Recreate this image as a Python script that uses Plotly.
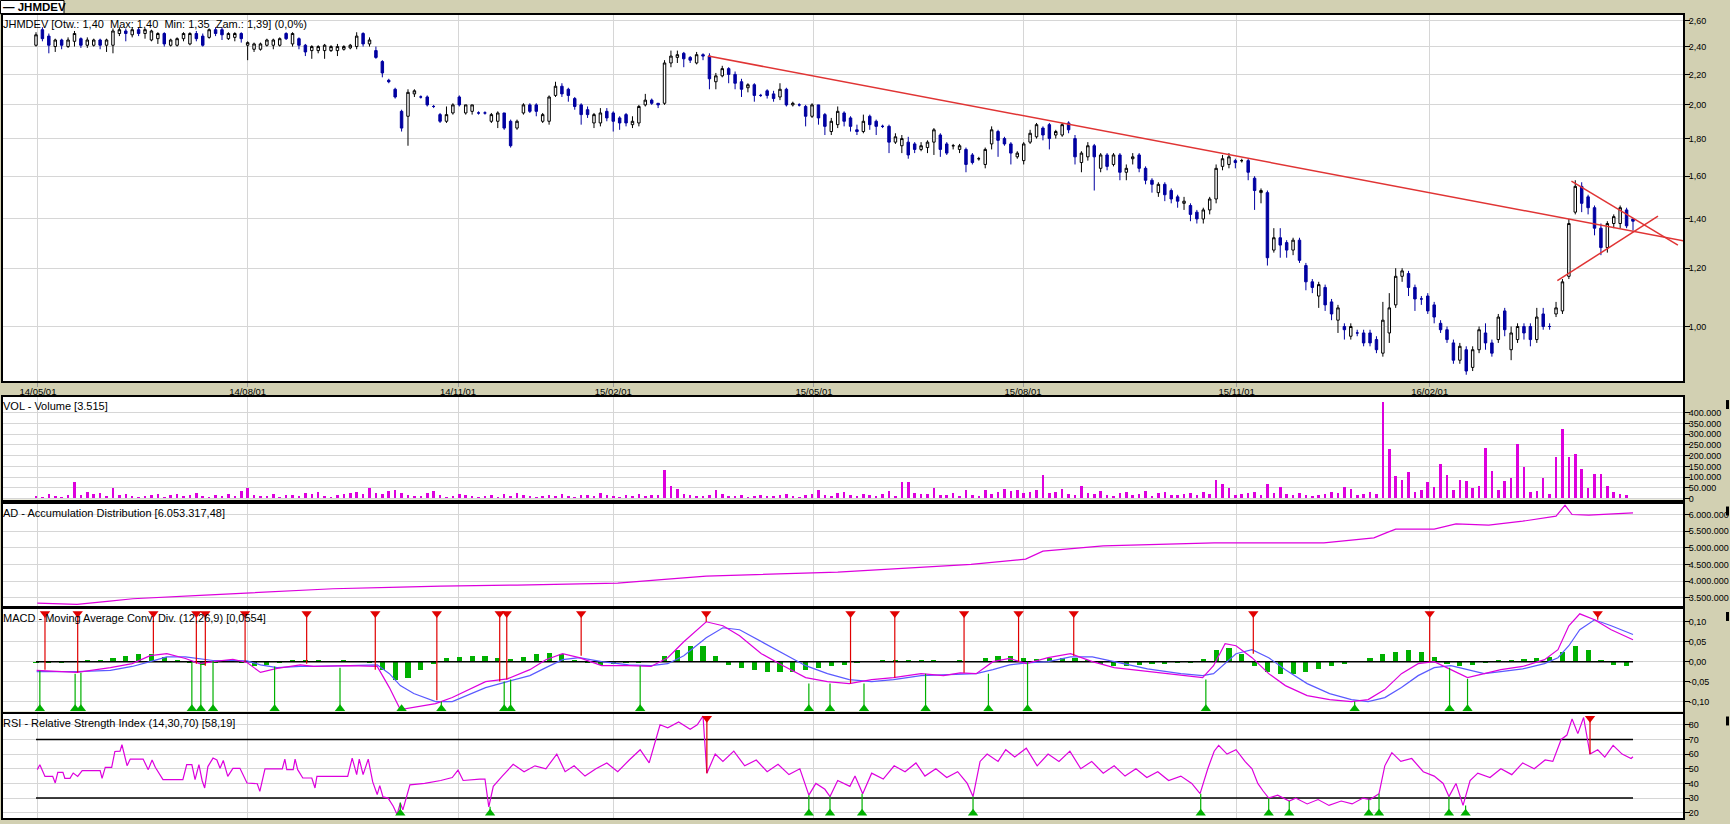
import plotly.graph_objects as go

# ---------------- DATA ----------------
date_pos = [0.3, 33.0, 65.8, 90.0, 121.3, 153.9, 187.2, 217.3]
date_lbl = ["14/05/01", "14/08/01", "14/11/01", "15/02/01", "15/05/01", "15/08/01", "15/11/01", "16/02/01"]

opens = [2.41,2.53,2.48,2.40,2.45,2.40,2.44,2.46,2.41,2.41,
 2.45,2.41,2.41,2.50,2.52,2.49,2.53,2.50,2.45,2.46,
 2.50,2.41,2.41,2.46,2.42,2.50,2.48,2.47,2.53,2.53,
 2.46,2.47,2.50,2.41,2.38,2.38,2.41,2.41,2.41,2.50,
 2.42,2.46,2.41,2.37,2.37,2.37,2.37,2.37,2.38,2.39,
 2.40,2.50,2.42,2.37,2.29,2.16,2.10,1.96,1.93,2.07,
 2.05,2.05,1.99,1.94,1.90,1.95,2.05,1.95,1.96,1.95,
 1.95,1.90,1.90,1.95,1.90,1.86,1.95,2.00,2.00,1.90,
 1.90,2.06,2.12,2.10,2.04,2.00,1.97,1.89,1.89,1.96,
 1.95,1.92,1.94,1.88,1.89,2.00,2.03,2.01,2.01,2.28,
 2.32,2.35,2.32,2.28,2.34,2.33,2.15,2.19,2.24,2.20,
 2.15,2.11,2.13,2.06,2.09,2.07,2.05,2.10,2.00,2.00,
 1.99,1.93,2.00,1.94,1.84,1.88,1.95,1.92,1.85,1.84,
 1.93,1.90,1.87,1.87,1.78,1.76,1.78,1.77,1.74,1.75,
 1.78,1.82,1.77,1.76,1.74,1.74,1.71,1.69,1.66,1.77,
 1.84,1.80,1.77,1.70,1.68,1.78,1.81,1.86,1.88,1.82,
 1.82,1.89,1.80,1.67,1.70,1.76,1.64,1.71,1.66,1.71,
 1.62,1.69,1.71,1.64,1.58,1.52,1.56,1.53,1.50,1.47,
 1.46,1.43,1.40,1.44,1.49,1.65,1.66,1.68,1.68,1.68,
 1.59,1.52,1.52,1.27,1.32,1.30,1.27,1.31,1.21,1.15,
 1.10,1.13,1.08,1.02,1.00,0.97,0.98,0.98,0.98,0.96,
 0.92,0.98,1.07,1.17,1.18,1.13,1.09,1.10,1.07,1.01,
 0.99,0.95,0.90,0.93,0.88,0.93,0.98,0.95,0.96,1.05,
 0.93,0.96,1.00,1.00,0.96,1.04,1.00,1.04,1.05,1.17,
 1.43,1.55,1.50,1.45,1.36,1.28,1.38,1.38,1.44,1.40]
highs = [2.51,2.55,2.50,2.46,2.46,2.47,2.52,2.47,2.47,2.46,
 2.46,2.46,2.54,2.55,2.54,2.55,2.55,2.54,2.53,2.51,
 2.51,2.46,2.47,2.51,2.51,2.52,2.50,2.54,2.55,2.55,
 2.51,2.51,2.51,2.44,2.43,2.43,2.46,2.46,2.47,2.51,
 2.51,2.47,2.42,2.41,2.41,2.42,2.41,2.42,2.41,2.42,
 2.51,2.51,2.47,2.40,2.30,2.17,2.11,1.97,2.10,2.10,
 2.06,2.06,2.00,1.95,1.99,2.01,2.06,2.00,2.00,1.96,
 1.96,1.95,1.96,1.95,1.91,1.91,2.01,2.01,2.01,1.95,
 2.06,2.15,2.14,2.11,2.05,2.01,1.99,1.95,1.98,1.98,
 1.96,1.93,1.95,1.93,2.00,2.07,2.04,2.01,2.30,2.37,
 2.37,2.36,2.33,2.36,2.35,2.35,2.21,2.26,2.25,2.22,
 2.17,2.14,2.14,2.07,2.10,2.09,2.14,2.11,2.02,2.01,
 2.00,2.01,2.00,1.95,1.92,1.99,1.96,1.93,1.88,1.94,
 1.94,1.91,1.88,1.88,1.83,1.82,1.81,1.78,1.78,1.79,
 1.86,1.83,1.78,1.77,1.77,1.75,1.72,1.70,1.75,1.87,
 1.85,1.81,1.78,1.73,1.78,1.85,1.89,1.87,1.89,1.85,
 1.89,1.90,1.82,1.73,1.78,1.77,1.72,1.72,1.72,1.72,
 1.66,1.72,1.72,1.65,1.59,1.57,1.57,1.54,1.51,1.50,
 1.47,1.44,1.45,1.50,1.66,1.71,1.72,1.69,1.69,1.69,
 1.60,1.54,1.53,1.36,1.36,1.31,1.32,1.32,1.22,1.16,
 1.15,1.14,1.09,1.07,1.01,1.01,0.99,0.99,0.99,0.97,
 1.08,1.11,1.20,1.20,1.19,1.14,1.10,1.11,1.08,1.02,
 1.00,0.96,0.95,0.94,0.94,1.00,1.01,0.96,1.04,1.06,
 1.00,1.01,1.01,1.01,1.06,1.06,1.01,1.08,1.16,1.40,
 1.58,1.57,1.51,1.46,1.38,1.39,1.42,1.46,1.45,1.40]
lows = [2.40,2.44,2.35,2.36,2.38,2.39,2.40,2.39,2.39,2.40,
 2.38,2.36,2.35,2.48,2.44,2.47,2.48,2.46,2.44,2.42,
 2.40,2.40,2.40,2.44,2.41,2.44,2.40,2.46,2.48,2.45,
 2.45,2.44,2.43,2.30,2.36,2.37,2.40,2.38,2.40,2.45,
 2.40,2.38,2.33,2.31,2.35,2.31,2.36,2.33,2.37,2.38,
 2.38,2.40,2.40,2.31,2.18,2.14,2.04,1.84,1.76,2.05,
 2.04,1.99,1.98,1.89,1.89,1.94,1.99,1.94,1.94,1.94,
 1.94,1.89,1.86,1.85,1.75,1.85,1.94,1.95,1.93,1.89,
 1.88,2.05,2.05,2.02,1.97,1.88,1.92,1.86,1.87,1.90,
 1.84,1.85,1.87,1.86,1.87,1.99,2.00,1.98,2.00,2.25,
 2.28,2.25,2.28,2.27,2.30,2.10,2.10,2.18,2.14,2.10,
 2.05,2.08,2.02,2.05,2.04,2.02,2.03,1.99,1.99,1.99,
 1.87,1.92,1.88,1.82,1.82,1.86,1.87,1.84,1.82,1.83,
 1.85,1.82,1.86,1.72,1.77,1.72,1.69,1.72,1.73,1.72,
 1.71,1.70,1.71,1.74,1.72,1.62,1.66,1.68,1.64,1.74,
 1.70,1.76,1.66,1.69,1.66,1.77,1.80,1.79,1.74,1.80,
 1.81,1.83,1.66,1.62,1.68,1.53,1.62,1.63,1.65,1.58,
 1.58,1.66,1.62,1.56,1.52,1.50,1.48,1.47,1.45,1.44,
 1.39,1.38,1.38,1.42,1.47,1.63,1.64,1.64,1.67,1.58,
 1.44,1.47,1.21,1.26,1.24,1.24,1.25,1.22,1.12,1.11,
 1.06,1.05,1.02,0.98,0.96,0.96,0.97,0.94,0.94,0.92,
 0.91,0.95,1.06,1.15,1.10,1.05,1.07,1.04,1.01,0.98,
 0.95,0.89,0.89,0.86,0.87,0.92,0.93,0.91,0.95,0.97,
 0.90,0.95,0.96,0.94,0.95,0.99,0.99,1.03,1.04,1.16,
 1.42,1.43,1.42,1.33,1.25,1.26,1.36,1.36,1.36,1.35]
closes = [2.49,2.46,2.41,2.45,2.41,2.45,2.50,2.41,2.45,2.45,
 2.41,2.45,2.52,2.53,2.50,2.53,2.50,2.53,2.52,2.50,
 2.42,2.45,2.46,2.50,2.50,2.46,2.41,2.53,2.50,2.49,
 2.50,2.50,2.46,2.43,2.42,2.42,2.45,2.45,2.46,2.46,
 2.50,2.41,2.36,2.40,2.40,2.41,2.40,2.40,2.40,2.41,
 2.48,2.42,2.45,2.32,2.21,2.15,2.05,1.86,2.08,2.09,
 2.05,2.00,1.99,1.90,1.94,2.00,2.00,2.00,2.00,1.95,
 1.95,1.94,1.95,1.86,1.76,1.90,2.00,1.96,1.96,1.94,
 2.05,2.12,2.07,2.06,1.99,1.94,1.94,1.94,1.95,1.92,
 1.90,1.89,1.89,1.90,1.99,2.03,2.01,2.00,2.28,2.33,
 2.34,2.31,2.30,2.34,2.33,2.17,2.19,2.24,2.20,2.14,
 2.10,2.13,2.06,2.06,2.06,2.04,2.10,2.00,2.01,2.00,
 1.93,2.00,1.92,1.87,1.90,1.96,1.90,1.87,1.84,1.90,
 1.88,1.87,1.87,1.78,1.81,1.80,1.71,1.74,1.76,1.78,
 1.85,1.74,1.72,1.76,1.76,1.66,1.67,1.69,1.74,1.85,
 1.79,1.77,1.72,1.72,1.77,1.83,1.88,1.82,1.80,1.84,
 1.88,1.85,1.70,1.72,1.76,1.70,1.71,1.65,1.71,1.62,
 1.64,1.70,1.64,1.58,1.56,1.56,1.51,1.49,1.48,1.48,
 1.42,1.40,1.44,1.49,1.64,1.69,1.70,1.67,1.68,1.62,
 1.53,1.53,1.24,1.32,1.29,1.27,1.31,1.23,1.15,1.13,
 1.14,1.07,1.04,1.06,0.99,1.00,0.98,0.95,0.95,0.93,
 1.02,1.06,1.17,1.19,1.13,1.09,1.09,1.05,1.03,0.99,
 0.96,0.90,0.94,0.87,0.93,0.99,0.95,0.92,1.03,0.99,
 0.98,1.00,0.98,0.96,1.03,1.00,1.00,1.06,1.15,1.38,
 1.55,1.47,1.45,1.36,1.28,1.38,1.41,1.45,1.37,1.39]

# volume in thousands of shares
volume_k = [12,8,20,10,5,15,75,18,30,22,
 25,12,50,15,20,10,8,12,18,22,
 8,15,22,10,18,25,12,8,15,10,
 20,12,35,50,15,10,12,20,8,15,
 18,10,25,20,30,12,8,15,20,25,
 30,22,50,28,20,35,40,25,15,10,
 12,25,35,18,8,10,20,15,12,5,
 10,15,8,20,12,25,18,10,8,12,
 15,10,20,12,8,15,18,10,25,15,
 12,8,15,10,20,12,18,15,135,60,
 45,20,15,10,12,18,40,20,12,10,
 15,8,12,18,10,12,15,20,12,8,
 15,22,40,15,10,25,30,18,12,20,
 15,10,20,35,12,75,75,25,20,22,
 50,15,18,25,10,40,18,12,40,20,
 30,45,35,40,25,30,40,110,25,30,
 45,20,15,60,25,20,35,18,12,25,
 30,15,20,35,12,25,30,18,15,20,
 25,18,30,20,85,70,50,15,20,25,
 30,15,70,25,55,20,15,25,18,12,
 15,20,30,25,55,45,15,20,30,20,
 450,230,105,85,125,30,40,75,55,160,
 110,40,85,80,50,60,235,130,40,80,
 95,255,145,30,35,95,20,195,325,195,
 210,140,50,115,115,60,30,20,15,4]

# accumulation / distribution (millions)
ad_pos = [0.2,6.4,11.5,15.1,25.6,36.0,46.3,56.8,63.1,75,90.7,98,104.5,125.0,135,145.8,154.3,157.0,
          166.4,183.7,200.8,208.6,210.5,212.0,218.0,221.4,226.5,231.8,237.0,238.4,239.5,242.1,249.0]
ad_mln = [3.34,3.30,3.40,3.47,3.57,3.67,3.77,3.82,3.85,3.88,3.94,4.05,4.15,4.27,4.38,4.50,4.66,4.90,
          5.06,5.15,5.15,5.30,5.45,5.56,5.56,5.72,5.68,5.80,5.95,6.28,6.00,5.98,6.05]

# MACD
macd_pos = [0.1,6.4,11.6,15.0,17.8,20.4,23.3,25.5,27.6,30.7,
 32.9,35.0,37.6,41.2,43.3,48.9,53.2,55.1,56.8,58.9,
 62.3,64.9,70.1,73.5,77.0,79.5,82.1,84.7,88.2,92.4,
 95.9,98.5,101.0,104.5,107.1,109.7,113.1,116.5,120.0,123.4,
 126.8,130.3,133.7,138.0,141.5,144.1,146.6,149.2,151.8,154.4,
 157.8,161.3,164.7,168.1,173.3,178.5,181.9,183.6,185.4,187.1,
 189.6,192.2,194.8,198.2,201.7,205.1,207.7,210.3,212.9,215.5,
 218.0,220.6,223.2,225.8,228.4,231.8,235.2,237.3,239.0,240.7,
 243.0,245.6,249.0]
macd_val = [-0.022,-0.027,-0.015,-0.005,0.015,0.020,0.008,-0.005,0.0,0.006,
 -0.002,-0.027,-0.017,-0.008,-0.012,-0.010,-0.012,-0.065,-0.120,-0.115,
 -0.105,-0.090,-0.050,-0.043,-0.020,0.005,0.020,0.010,-0.010,-0.010,
 -0.012,0.010,0.050,0.100,0.090,0.065,0.020,-0.010,-0.040,-0.050,
 -0.055,-0.045,-0.040,-0.030,-0.035,-0.028,-0.030,0.000,0.008,-0.005,
 0.010,0.020,0.000,-0.015,-0.025,-0.035,-0.040,-0.010,0.045,0.040,
 0.010,-0.030,-0.060,-0.085,-0.095,-0.100,-0.095,-0.070,-0.030,-0.005,
 0.000,-0.020,-0.040,-0.030,-0.020,-0.012,0.005,0.030,0.090,0.120,
 0.105,0.080,0.055]
signal_val = [-0.025,-0.025,-0.022,-0.012,0.0,0.012,0.012,0.008,0.003,0.003,
 0.002,-0.008,-0.015,-0.012,-0.012,-0.010,-0.008,-0.030,-0.060,-0.080,
 -0.100,-0.100,-0.065,-0.050,-0.035,-0.015,0.005,0.010,0.0,-0.008,
 -0.010,-0.005,0.015,0.060,0.085,0.080,0.050,0.020,-0.010,-0.030,
 -0.045,-0.050,-0.045,-0.035,-0.033,-0.032,-0.030,-0.020,-0.008,-0.003,
 0.0,0.012,0.012,0.0,-0.018,-0.030,-0.035,-0.030,-0.005,0.020,
 0.030,0.010,-0.020,-0.055,-0.080,-0.095,-0.100,-0.090,-0.065,-0.035,
 -0.015,-0.010,-0.020,-0.030,-0.025,-0.018,-0.005,0.010,0.040,0.080,
 0.105,0.090,0.068]
hist_val = [-0.004,-0.004,-0.003,0.002,0.003,0.004,0.008,0.015,0.02,0.02,
 0.012,0.005,-0.003,-0.008,-0.004,0.003,-0.004,-0.012,-0.008,-0.003,
 0.004,0.005,0.003,0.002,0.004,0.002,-0.003,-0.02,-0.045,-0.04,
 -0.02,-0.005,0.008,0.012,0.015,0.014,0.008,0.007,0.012,0.018,
 0.022,0.018,0.005,-0.004,-0.008,-0.005,-0.003,-0.003,-0.002,0.015,
 0.03,0.04,0.04,0.015,-0.008,-0.015,-0.02,-0.025,-0.025,-0.025,
 -0.02,-0.015,-0.012,-0.008,-0.004,0.002,0.004,0.005,0.004,0.005,
 0.003,0.002,0.003,0.002,0.01,0.015,0.014,0.008,0.006,0.008,
 0.01,0.009,0.004,-0.006,-0.012,-0.01,-0.008,-0.006,-0.005,-0.004,
 -0.004,0.006,0.03,0.035,0.018,-0.01,-0.025,-0.03,-0.03,-0.025,
 -0.018,-0.012,-0.006,0.002,0.01,0.018,0.025,0.03,0.025,0.012,
 -0.006,-0.012,-0.008,-0.003,0.003,0.005,0.006,0.008,0.012,0.025,
 0.04,0.03,0.005,-0.008,-0.01]
macd_sell_pos = [1.4,6.5,18.3,25.0,26.4,32.6,42.2,52.9,62.5,72.3,73.4,85.0,104.5,127.0,133.9,144.7,153.2,161.8,189.8,217.3,243.5]
macd_sell_val = [-0.02,-0.027,0.02,-0.005,-0.01,0.0,-0.005,-0.02,-0.097,-0.05,-0.045,0.015,0.10,-0.055,-0.04,-0.028,0.0,0.015,0.02,0.0,0.105]
macd_buy_pos = [0.6,6.1,7.0,24.3,25.7,27.6,37.2,47.4,57.0,63.2,73.0,74.0,94.2,120.5,123.8,129.1,138.7,148.5,154.6,182.4,205.6,220.4,223.2]
macd_buy_val = [-0.023,-0.03,-0.028,-0.002,-0.005,0.002,-0.012,-0.015,-0.115,-0.10,-0.05,-0.045,-0.01,-0.055,-0.055,-0.055,-0.03,-0.03,0.0,-0.045,-0.10,-0.015,-0.043]

# RSI
rsi_pos = [0.2,0.6,1.4,2.6,3.0,3.4,4.2,4.5,5.3,5.8,6.5,7.2,10.0,10.3,10.8,11.8,12.3,13.1,13.4,14.2,
 14.7,16.7,17.5,18.1,18.6,19.8,22.9,23.5,24.3,24.8,25.4,25.9,26.3,26.8,27.6,28.2,28.7,29.2,29.9,30.7,
 31.8,32.9,34.5,34.9,35.7,38.4,38.8,39.1,40.1,40.4,40.8,41.6,43.0,43.5,43.8,48.6,49.3,50.0,50.4,51.0,
 51.8,52.5,53.2,53.6,54.1,54.9,55.7,56.3,56.8,
 57.2,58.3,60.6,63.1,64.9,65.8,66.6,69.2,70.0,70.6,71.3,72.7,74.4,76.1,77.8,79.5,81.2,82.5,83.9,85.6,
 87.3,89.0,90.7,92.5,94.2,95.6,97.3,98.5,100.2,102.0,103.1,104.0,104.6,105.9,107.1,108.8,110.5,112.3,114.0,115.7,
 117.4,119.1,120.5,121.6,123.0,123.8,125.0,126.9,127.7,128.9,130.3,132.1,133.8,135.5,137.2,138.6,140.3,142.0,143.7,145.2,
 146.1,147.2,148.3,150.0,151.2,152.6,154.4,156.1,157.8,159.5,161.2,162.9,164.6,166.4,168.1,169.8,171.5,173.2,174.9,176.6,
 178.5,180.2,181.5,182.7,183.7,184.4,185.7,187.1,188.5,189.6,190.5,191.3,192.2,193.6,195.4,196.4,198.2,199.9,201.6,203.5,
 205.2,206.9,208.0,209.4,210.3,211.4,212.8,214.5,216.3,218.0,219.4,220.3,221.4,222.5,223.6,224.8,226.7,228.4,230.1,231.8,
 233.6,235.3,236.5,237.8,238.7,239.5,240.4,241.3,242.3,243.5,244.6,245.9,247.3,248.7,249.0]
rsi_val = [49.4,52.8,44.8,44.8,40.3,47.5,47.5,43.5,43.5,47.1,44.8,48.8,48.8,43.5,51,51,61.8,62,66.4,52.1,
 56.6,56.6,49.4,56,51,42.6,42.6,52.8,52.8,42.6,52.8,42,36.9,51.5,57.3,56,50.3,55.7,44.8,50.3,
 50.3,40.3,39.8,34.6,49.9,49.9,56.6,49.4,49.4,56.6,49.4,43.7,43.7,36.9,44.8,44.8,57.3,46,56.6,46,
 56.6,41,32.4,38.5,30.8,30,24.4,18.8,26.6,
 22,39,40,42,44,49,42,43,43,24,38,45,53,48,52,50,60,48,52,45,
 50,54,48,56,63,54,80,78,82,77,80,86,47,60,55,62,52,56,48,53,
 46,50,32,40,36,31,42,38,45,33,47,43,52,48,54,45,50,44,48,40,
 31,55,60,55,63,58,64,52,60,55,62,50,55,47,52,45,50,44,48,42,
 45,40,33,50,62,66,60,63,55,50,40,35,30,32,28,30,26,29,25,28,
 26,30,29,33,52,61,55,57,48,45,40,31,40,25,42,47,44,50,46,54,
 50,56,55,70,73,84,74,85,60,63,58,66,60,57,58.2]
rsi_sell_pos = [104.6, 242.3]
rsi_sell_val = [47, 60]
rsi_buy_pos = [56.8, 70.8, 120.5, 123.8, 128.8, 146.1, 181.6, 192.2, 195.4, 207.8, 209.4, 220.3, 222.9]
rsi_buy_val = [27, 24, 32, 31, 33, 31, 33, 30, 28, 29, 33, 31, 25]

# trend lines drawn on the price chart (bar position, price)
trend_main = ([104.8, 264.1], [2.33, 1.272])
trend_upper = ([239.4, 256.0], [1.576, 1.29])
trend_lower = ([237.2, 252.9], [1.154, 1.412])

price_ticks = [1.0, 1.2, 1.4, 1.6, 1.8, 2.0, 2.2, 2.4, 2.6]
price_tick_lbl = ["1,00", "1,20", "1,40", "1,60", "1,80", "2,00", "2,20", "2,40", "2,60"]
vol_ticks = [0, 50000, 100000, 150000, 200000, 250000, 300000, 350000, 400000]
vol_tick_lbl = ["0", "50.000", "100.000", "150.000", "200.000", "250.000", "300.000", "350.000", "400.000"]
ad_ticks = [3500000, 4000000, 4500000, 5000000, 5500000, 6000000]
ad_tick_lbl = ["3.500.000", "4.000.000", "4.500.000", "5.000.000", "5.500.000", "6.000.000"]
macd_ticks = [-0.10, -0.05, 0.0, 0.05, 0.10]
macd_tick_lbl = ["-0,10", "-0,05", "0,00", "0,05", "0,10"]
rsi_ticks = [20, 30, 40, 50, 60, 70, 80]
rsi_tick_lbl = ["20", "30", "40", "50", "60", "70", "80"]

titles = ["JHMDEV [Otw.: 1,40  Max: 1,40  Min: 1,35  Zam.: 1,39] (0,0%)",
          "VOL - Volume [3.515]",
          "AD - Accumulation Distribution [6.053.317,48]",
          "MACD - Moving Average Conv. Div. (12,26,9) [0,0554]",
          "RSI - Relative Strength Index (14,30,70) [58,19]"]

# ---------------- STYLE / LAYOUT ----------------
W, H = 1730, 824
BG = "#D2D0B2"
GRID = "#D6D6D6"
BLUE = "#0000A0"
MAG = "#DD00DD"
GREEN = "#00B000"
RED = "#E00000"
TREND = "#E03434"
FONT = "Liberation Sans"

# panels in pixels (top, bottom)
panels = [(15, 383), (399, 502), (506, 609), (612, 715), (717, 822)]
X_LEFT, X_RIGHT = 3, 1683
BAR0_PX, BARLAST_PX = 36, 1633
n = len(closes)
step = (BARLAST_PX - BAR0_PX) / (n - 1)
x_range = [(X_LEFT - BAR0_PX) / step, (X_RIGHT - BAR0_PX) / step]
idx = list(range(n))

def ydom(p):
    t, b = p
    return [1 - b / H, 1 - t / H]

fig = go.Figure()

# price
fig.add_trace(go.Candlestick(
    x=idx, open=opens, high=highs, low=lows, close=closes,
    increasing=dict(line=dict(color="black", width=1), fillcolor="white"),
    decreasing=dict(line=dict(color=BLUE, width=1), fillcolor=BLUE),
    whiskerwidth=0, xaxis="x", yaxis="y", hoverinfo="skip", showlegend=False))
for tx, ty in (trend_main, trend_upper, trend_lower):
    fig.add_trace(go.Scatter(x=tx, y=ty, mode="lines", line=dict(color=TREND, width=1.5),
                             xaxis="x", yaxis="y", hoverinfo="skip", showlegend=False))

# volume
fig.add_trace(go.Bar(x=idx, y=[v * 1000 for v in volume_k], marker=dict(color=MAG, line=dict(width=0)),
                     width=0.4, xaxis="x2", yaxis="y2", hoverinfo="skip", showlegend=False))

# AD
fig.add_trace(go.Scatter(x=ad_pos, y=[v * 1e6 for v in ad_mln], mode="lines", line=dict(color=MAG, width=1.2),
                         xaxis="x3", yaxis="y3", hoverinfo="skip", showlegend=False))

# MACD
hist_pos = [2 * k for k in range(len(hist_val))]
fig.add_trace(go.Bar(x=hist_pos, y=hist_val, marker=dict(color=GREEN, line=dict(width=0)), width=0.8,
                     xaxis="x4", yaxis="y4", hoverinfo="skip", showlegend=False))
fig.add_trace(go.Scatter(x=[0, n - 1], y=[0, 0], mode="lines", line=dict(color="black", width=1.5),
                         xaxis="x4", yaxis="y4", hoverinfo="skip", showlegend=False))
fig.add_trace(go.Scatter(x=macd_pos, y=signal_val, mode="lines", line=dict(color="#5A5AFF", width=1.2),
                         xaxis="x4", yaxis="y4", hoverinfo="skip", showlegend=False))
fig.add_trace(go.Scatter(x=macd_pos, y=macd_val, mode="lines", line=dict(color=MAG, width=1.2),
                         xaxis="x4", yaxis="y4", hoverinfo="skip", showlegend=False))

MACD_TOP, MACD_BOT = 0.121, -0.118
def seg(pos, val, end):
    xs, ys = [], []
    for p, v in zip(pos, val):
        xs += [p, p, None]
        ys += [end, v, None]
    return xs, ys

sx, sy = seg(macd_sell_pos, macd_sell_val, MACD_TOP)
fig.add_trace(go.Scatter(x=sx, y=sy, mode="lines", line=dict(color=RED, width=1.2),
                         xaxis="x4", yaxis="y4", hoverinfo="skip", showlegend=False))
bx, by = seg(macd_buy_pos, macd_buy_val, MACD_BOT)
fig.add_trace(go.Scatter(x=bx, y=by, mode="lines", line=dict(color=GREEN, width=1.2),
                         xaxis="x4", yaxis="y4", hoverinfo="skip", showlegend=False))
fig.add_trace(go.Scatter(x=macd_sell_pos, y=[MACD_TOP] * len(macd_sell_pos), mode="markers",
                         marker=dict(symbol="triangle-down", size=9, color=RED),
                         xaxis="x4", yaxis="y4", hoverinfo="skip", showlegend=False, cliponaxis=False))
fig.add_trace(go.Scatter(x=macd_buy_pos, y=[MACD_BOT] * len(macd_buy_pos), mode="markers",
                         marker=dict(symbol="triangle-up", size=9, color=GREEN),
                         xaxis="x4", yaxis="y4", hoverinfo="skip", showlegend=False, cliponaxis=False))

# RSI
for lvl in (70, 30):
    fig.add_trace(go.Scatter(x=[0, n - 1], y=[lvl, lvl], mode="lines", line=dict(color="black", width=1.5),
                             xaxis="x5", yaxis="y5", hoverinfo="skip", showlegend=False))
fig.add_trace(go.Scatter(x=rsi_pos, y=rsi_val, mode="lines", line=dict(color=MAG, width=1.2),
                         xaxis="x5", yaxis="y5", hoverinfo="skip", showlegend=False))
RSI_TOP, RSI_BOT = 84.5, 19.6
sx, sy = seg(rsi_sell_pos, rsi_sell_val, RSI_TOP)
fig.add_trace(go.Scatter(x=sx, y=sy, mode="lines", line=dict(color=RED, width=1.2),
                         xaxis="x5", yaxis="y5", hoverinfo="skip", showlegend=False))
bx, by = seg(rsi_buy_pos, rsi_buy_val, RSI_BOT)
fig.add_trace(go.Scatter(x=bx, y=by, mode="lines", line=dict(color=GREEN, width=1.2),
                         xaxis="x5", yaxis="y5", hoverinfo="skip", showlegend=False))
fig.add_trace(go.Scatter(x=rsi_sell_pos, y=[RSI_TOP] * len(rsi_sell_pos), mode="markers",
                         marker=dict(symbol="triangle-down", size=9, color=RED),
                         xaxis="x5", yaxis="y5", hoverinfo="skip", showlegend=False, cliponaxis=False))
fig.add_trace(go.Scatter(x=rsi_buy_pos, y=[RSI_BOT] * len(rsi_buy_pos), mode="markers",
                         marker=dict(symbol="triangle-up", size=9, color=GREEN),
                         xaxis="x5", yaxis="y5", hoverinfo="skip", showlegend=False, cliponaxis=False))

xdom = [X_LEFT / W, X_RIGHT / W]
axis_common = dict(showline=True, mirror=True, linecolor="black", linewidth=2,
                   showgrid=True, gridcolor=GRID, gridwidth=1, zeroline=False, fixedrange=True)

layout = dict(
    width=W, height=H, autosize=False,
    margin=dict(l=0, r=0, t=0, b=0, pad=0),
    paper_bgcolor=BG, plot_bgcolor="white",
    font=dict(family=FONT, size=10, color="black"),
    showlegend=False, bargap=0, boxgap=0.45, hovermode=False,
)
yranges = [
    dict(type="log", range=[-0.0742, 0.4232], tickvals=price_ticks, ticktext=price_tick_lbl),
    dict(range=[-5000, 474000], tickvals=vol_ticks, ticktext=vol_tick_lbl),
    dict(range=[3250000, 6330000], tickvals=ad_ticks, ticktext=ad_tick_lbl),
    dict(range=[-0.125, 0.132], tickvals=macd_ticks, ticktext=macd_tick_lbl),
    dict(range=[16.4, 87.7], tickvals=rsi_ticks, ticktext=rsi_tick_lbl),
]
for k in range(5):
    sfx = "" if k == 0 else str(k + 1)
    xa = dict(axis_common, domain=xdom, range=x_range, anchor="y" + sfx,
              tickvals=date_pos, ticktext=date_lbl if k == 0 else [""] * len(date_pos),
              showticklabels=(k == 0), ticks="outside" if k == 0 else "", ticklen=4, tickcolor="#9A9A9A",
              ticklabelstandoff=-4,
              tickfont=dict(family=FONT, size=9.5), rangeslider=dict(visible=False))
    ya = dict(axis_common, domain=ydom(panels[k]), anchor="x" + sfx, side="right",
              ticks="outside", ticklen=5, tickcolor="black", tickwidth=1, ticklabelstandoff=-3,
              tickfont=dict(family=FONT, size=9), **yranges[k])
    layout["xaxis" + sfx] = xa
    layout["yaxis" + sfx] = ya

annotations = []
for k, t in enumerate(titles):
    top = panels[k][0]
    annotations.append(dict(text=t, xref="paper", yref="paper", x=1 / W, y=1 - (top + 1) / H,
                            xanchor="left", yanchor="top", showarrow=False,
                            font=dict(family=FONT, size=11, color="black")))
annotations.append(dict(text="<b>\u2014 JHMDEV</b>", xref="paper", yref="paper", x=1 / W, y=1 - 7 / H,
                        xanchor="left", yanchor="middle", showarrow=False,
                        font=dict(family=FONT, size=11.5, color="black")))
layout["annotations"] = annotations

shapes = [dict(type="rect", xref="paper", yref="paper", x0=0.5 / W, x1=64 / W, y0=1 - 14 / H, y1=1 - 0.5 / H,
               fillcolor="white", line=dict(color="black", width=1), layer="below")]
for k in range(1, 5):
    top = panels[k][0]
    shapes.append(dict(type="rect", xref="paper", yref="paper", x0=1726 / W, x1=1729 / W,
                       y0=1 - (top + 12) / H, y1=1 - (top + 3) / H, fillcolor="black", line=dict(width=0)))
layout["shapes"] = shapes

fig.update_layout(**layout)
fig.write_html("out.html", include_plotlyjs=True,
               config={"displayModeBar": False, "staticPlot": True},
               post_script="document.body.style.margin='0';document.body.style.padding='0';"
                           "document.body.style.overflow='hidden';"
                           "document.documentElement.style.overflow='hidden';")
